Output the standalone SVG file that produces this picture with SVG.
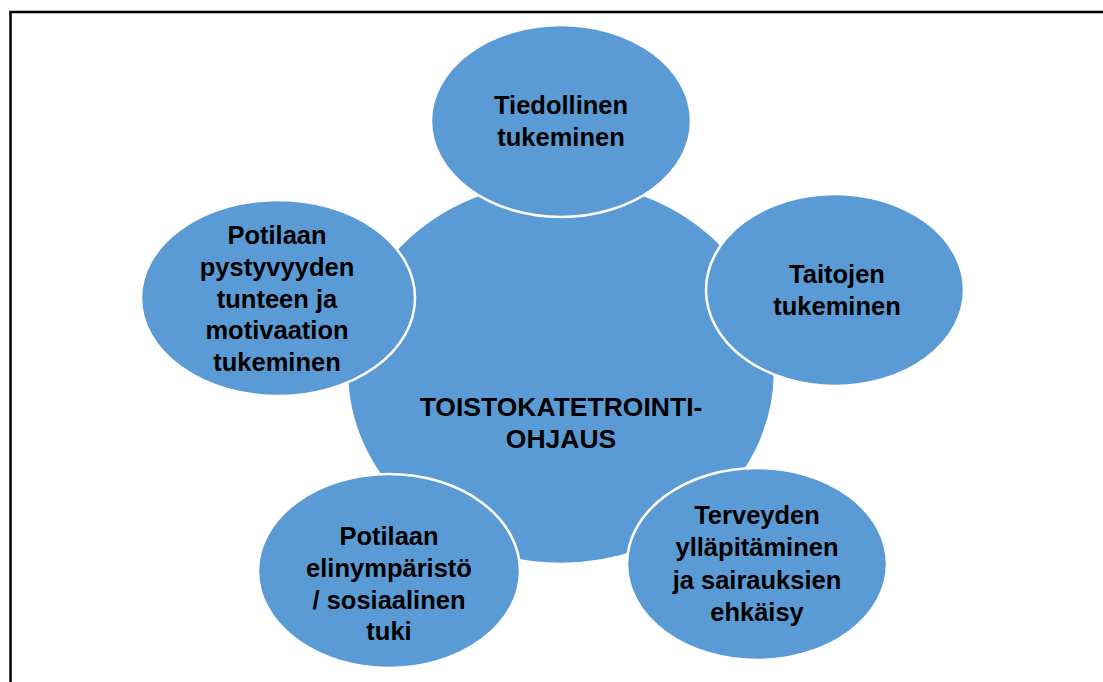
<svg xmlns="http://www.w3.org/2000/svg" width="1103" height="682" viewBox="0 0 1103 682">
<style>
.n{fill:#5B9BD5;stroke:#FFFFFF;stroke-width:2.5}
.t{font-family:"Liberation Sans",Arial,sans-serif;font-weight:bold;font-size:25.5px;fill:#000;text-anchor:middle}
.c{font-size:26.5px}
</style>
<rect width="1103" height="682" fill="#FFFFFF"/>
<path d="M10.5,682 V12 H1103" fill="none" stroke="#000" stroke-width="2.5"/>
<g id="connectors"></g>
<g id="center">
<ellipse class="n" cx="561" cy="372" rx="214" ry="192"/>
<text class="t c" x="561" y="416">TOISTOKATETROINTI-</text>
<text class="t c" x="561" y="448">OHJAUS</text>
</g>
<g id="tiedollinen">
<ellipse class="n" cx="561" cy="121" rx="130" ry="96"/>
<text class="t" x="561" y="114">Tiedollinen</text>
<text class="t" x="561" y="146">tukeminen</text>
</g>
<g id="taitojen">
<ellipse class="n" cx="835" cy="290" rx="129" ry="96"/>
<text class="t" x="837" y="283">Taitojen</text>
<text class="t" x="837" y="315">tukeminen</text>
</g>
<g id="terveyden">
<ellipse class="n" cx="757" cy="564" rx="130" ry="96"/>
<text class="t" x="757" y="524">Terveyden</text>
<text class="t" x="757" y="556">ylläpitäminen</text>
<text class="t" x="757" y="589">ja sairauksien</text>
<text class="t" x="757" y="621">ehkäisy</text>
</g>
<g id="elinymparisto">
<ellipse class="n" cx="389" cy="571" rx="131" ry="97"/>
<text class="t" x="389" y="545">Potilaan</text>
<text class="t" x="389" y="577">elinympäristö</text>
<text class="t" x="389" y="609">/ sosiaalinen</text>
<text class="t" x="389" y="640">tuki</text>
</g>
<g id="pystyvyys">
<ellipse class="n" cx="278" cy="298" rx="137" ry="98"/>
<text class="t" x="277" y="244">Potilaan</text>
<text class="t" x="277" y="276">pystyvyyden</text>
<text class="t" x="277" y="308">tunteen ja</text>
<text class="t" x="277" y="339">motivaation</text>
<text class="t" x="277" y="371">tukeminen</text>
</g>
</svg>
